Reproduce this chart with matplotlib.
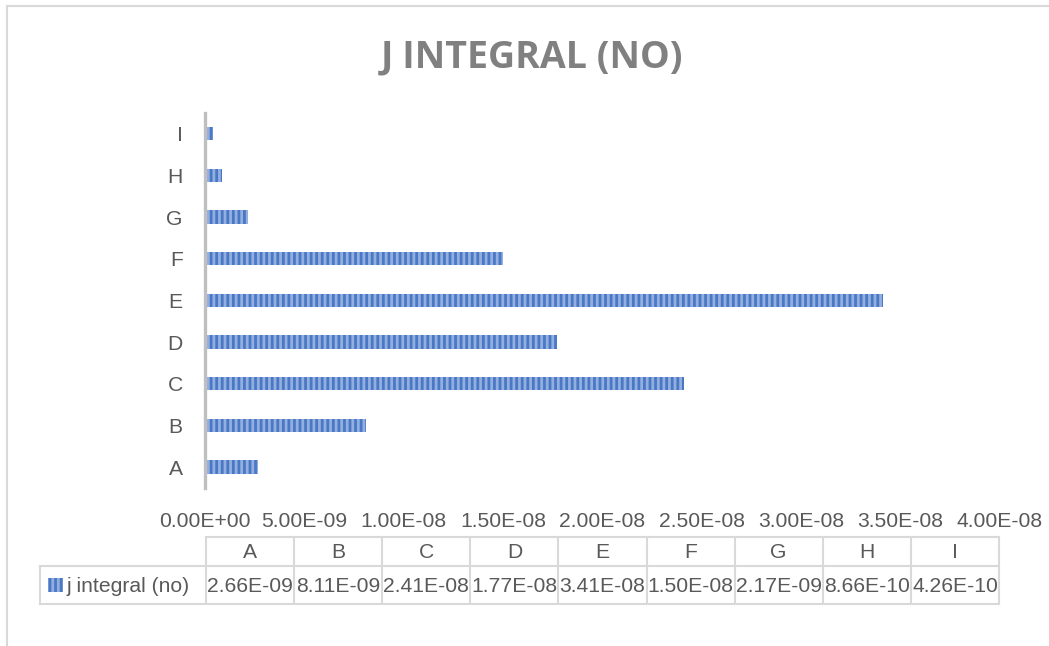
import matplotlib
matplotlib.use("Agg")
import matplotlib.pyplot as plt

# ---- data ----
categories = ["A", "B", "C", "D", "E", "F", "G", "H", "I"]
j_integral = [2.66e-09, 8.11e-09, 2.41e-08, 1.77e-08, 3.41e-08, 1.50e-08, 2.17e-09, 8.66e-10, 4.26e-10]
x_ticks = [0.0, 5e-09, 1e-08, 1.5e-08, 2e-08, 2.5e-08, 3e-08, 3.5e-08, 4e-08]
series_name = "j integral (no)"
title = "J INTEGRAL (NO)"

# ---- style ----
plt.rcParams.update({
    "font.family": ["Liberation Sans", "DejaVu Sans"],
    "font.size": 15.2,
    "hatch.linewidth": 2.0,
})
txt = "#595959"
grid_c = "#d9d9d9"
bar_face = "#4a78c4"
bar_stripe = "#92afdf"

W, H = 1049, 646
fig = plt.figure(figsize=(W / 100, H / 100), dpi=100)

# overlay in pixel coords for border, title and the data table
ov = fig.add_axes([0, 0, 1, 1])
ov.set_xlim(0, W)
ov.set_ylim(H, 0)
ov.axis("off")
ov.plot([7, W], [6, 6], color=grid_c, lw=1.5)
ov.plot([7, 7], [6, H], color=grid_c, lw=1.5)

ov.text(532, 57, title, ha="center", va="center", fontsize=27,
        fontweight="bold", color="#808080", family=["Open Sans", "DejaVu Sans"])

# ---- bar chart ----
left, right, top, bottom = 205, 1000, 113, 488
ax = fig.add_axes([left / W, 1 - bottom / H, (right - left) / W, (bottom - top) / H])
ax.patch.set_alpha(0)
ypos = range(len(categories))
ax.barh(ypos, j_integral, height=0.32, color=bar_face, edgecolor=bar_stripe,
        linewidth=0, hatch="|||")
ax.set_xlim(0, 4e-08)
ax.set_ylim(-0.5, len(categories) - 0.5)
ax.set_yticks(list(ypos))
ax.set_yticklabels(categories)
ax.set_xticks(x_ticks)
ax.set_xticklabels([f"{v:.2E}" for v in x_ticks])
ax.tick_params(axis="x", length=0, pad=17, colors=txt)
ax.tick_params(axis="y", length=0, pad=16, colors=txt)
for s in ["top", "right", "bottom"]:
    ax.spines[s].set_visible(False)
ax.spines["left"].set_color("#bfbfbf")
ax.spines["left"].set_linewidth(2.4)

# ---- data table ----
t_left, t_right = 206, 999
col_w = (t_right - t_left) / len(categories)
r0, r1, r2 = 537, 566, 604
leg_left = 40
ov.plot([t_left, t_right], [r0, r0], color=grid_c, lw=1.5)
ov.plot([leg_left, t_right], [r1, r1], color=grid_c, lw=1.5)
ov.plot([leg_left, t_right], [r2, r2], color=grid_c, lw=1.5)
ov.plot([leg_left, leg_left], [r1, r2], color=grid_c, lw=1.5)
for i in range(len(categories) + 1):
    xx = t_left + i * col_w
    ov.plot([xx, xx], [r0, r2], color=grid_c, lw=1.5)
for i, (c, v) in enumerate(zip(categories, j_integral)):
    cx = t_left + (i + 0.5) * col_w
    ov.text(cx, (r0 + r1) / 2 + 1, c, ha="center", va="center", color=txt)
    ov.text(cx, (r1 + r2) / 2 + 1, f"{v:.2E}", ha="center", va="center", color=txt)

# legend key inside table
ov.add_patch(plt.Rectangle((48, 578), 15, 14, facecolor=bar_face,
                           edgecolor=bar_stripe, linewidth=0, hatch="|||"))
ov.text(67, (r1 + r2) / 2 + 1, series_name, ha="left", va="center", color=txt)

fig.savefig("out.png", dpi=100)
